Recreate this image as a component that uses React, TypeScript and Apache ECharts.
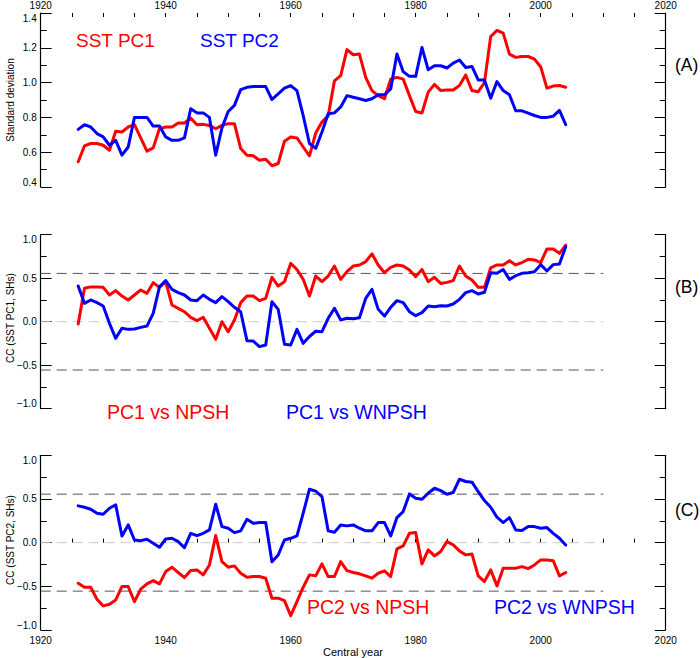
import React, { useEffect, useRef } from "react";
import * as echarts from "echarts";

const FONT = '"Liberation Sans", Arial, Helvetica, sans-serif';

const years = [
  1926, 1927, 1928, 1929, 1930, 1931, 1932, 1933, 1934, 1935,
  1936, 1937, 1938, 1939, 1940, 1941, 1942, 1943, 1944, 1945,
  1946, 1947, 1948, 1949, 1950, 1951, 1952, 1953, 1954, 1955,
  1956, 1957, 1958, 1959, 1960, 1961, 1962, 1963, 1964, 1965,
  1966, 1967, 1968, 1969, 1970, 1971, 1972, 1973, 1974, 1975,
  1976, 1977, 1978, 1979, 1980, 1981, 1982, 1983, 1984, 1985,
  1986, 1987, 1988, 1989, 1990, 1991, 1992, 1993, 1994, 1995,
  1996, 1997, 1998, 1999, 2000, 2001, 2002, 2003, 2004,
];

// Panel A: standard deviation
const sstPc1Std = [
  0.545, 0.636, 0.65, 0.65, 0.64, 0.611, 0.72, 0.716, 0.745, 0.758,
  0.682, 0.606, 0.625, 0.735, 0.745, 0.745, 0.768, 0.768, 0.796, 0.758,
  0.76, 0.754, 0.735, 0.754, 0.764, 0.764, 0.621, 0.583, 0.579, 0.554,
  0.56, 0.522, 0.535, 0.663, 0.687, 0.682, 0.63, 0.579, 0.71, 0.773,
  0.81, 1.01, 1.04, 1.19, 1.16, 1.164, 1.03, 0.954, 0.925, 0.907,
  1.02, 1.03, 1.02, 0.925, 0.834, 0.825, 0.945, 0.99, 0.954, 0.958,
  0.958, 0.983, 1.044, 0.954, 0.948, 1.0, 1.265, 1.3, 1.284, 1.164,
  1.145, 1.15, 1.15, 1.135, 1.09, 0.968, 0.98, 0.983, 0.973,
];
const sstPc2Std = [
  0.731, 0.758, 0.745, 0.707, 0.688, 0.64, 0.668, 0.583, 0.63, 0.8,
  0.8, 0.8, 0.75, 0.75, 0.688, 0.668, 0.668, 0.682, 0.85, 0.826,
  0.826, 0.8, 0.583, 0.74, 0.834, 0.869, 0.96, 0.973, 0.977, 0.977,
  0.977, 0.903, 0.935, 0.968, 0.983, 0.954, 0.81, 0.65, 0.622, 0.716,
  0.821, 0.826, 0.86, 0.925, 0.916, 0.907, 0.897, 0.907, 0.93, 0.93,
  0.964, 1.164, 1.063, 1.036, 1.036, 1.202, 1.074, 1.097, 1.097, 1.084,
  1.112, 1.13, 1.087, 1.093, 1.015, 1.015, 0.91, 1.006, 0.954, 0.93,
  0.838, 0.838, 0.825, 0.811, 0.8, 0.8, 0.807, 0.84, 0.758,
];

// Panel B: CC with SST PC1
const pc1VsNpsh = [
  -0.026, 0.384, 0.4, 0.4, 0.395, 0.307, 0.357, 0.295, 0.25, 0.307,
  0.364, 0.326, 0.449, 0.395, 0.46, 0.192, 0.154, 0.115, 0.05, 0.012,
  0.05, -0.076, -0.203, 0.0, -0.115, 0.02, 0.219, 0.295, 0.295, 0.242,
  0.268, 0.51, 0.41, 0.46, 0.67, 0.6, 0.487, 0.295, 0.525, 0.46,
  0.525, 0.64, 0.487, 0.575, 0.64, 0.652, 0.69, 0.78, 0.652, 0.563,
  0.625, 0.652, 0.64, 0.594, 0.518, 0.6, 0.46, 0.51, 0.44, 0.452,
  0.472, 0.64, 0.525, 0.479, 0.395, 0.395, 0.62, 0.652, 0.652, 0.7,
  0.652, 0.68, 0.717, 0.71, 0.68, 0.836, 0.836, 0.786, 0.88,
];
const pc1VsWnpsh = [
  0.41, 0.211, 0.25, 0.219, 0.18, -0.019, -0.191, -0.076, -0.088, -0.084,
  -0.065, -0.05, 0.096, 0.4, 0.472, 0.372, 0.334, 0.307, 0.25, 0.242,
  0.307, 0.257, 0.219, 0.288, 0.23, 0.165, 0.115, -0.218, -0.222, -0.287,
  -0.268, 0.23, 0.142, -0.26, -0.268, -0.088, -0.249, -0.17, -0.11, -0.115,
  0.039, 0.154, 0.02, 0.039, 0.035, 0.046, 0.268, 0.372, 0.142, 0.065,
  0.165, 0.242, 0.219, 0.115, 0.069, 0.104, 0.18, 0.173, 0.184, 0.18,
  0.203, 0.257, 0.334, 0.357, 0.318, 0.338, 0.563, 0.556, 0.6, 0.487,
  0.529, 0.556, 0.563, 0.575, 0.656, 0.583, 0.656, 0.663, 0.862,
];

// Panel C: CC with SST PC2
const pc2VsNpsh = [
  -0.465, -0.51, -0.51, -0.648, -0.724, -0.705, -0.656, -0.503, -0.503, -0.675,
  -0.533, -0.472, -0.434, -0.472, -0.331, -0.281, -0.342, -0.4, -0.32, -0.312,
  -0.369, -0.255, 0.081, -0.217, -0.281, -0.266, -0.35, -0.395, -0.388, -0.388,
  -0.407, -0.636, -0.636, -0.663, -0.835, -0.675, -0.51, -0.369, -0.38, -0.243,
  -0.388, -0.388, -0.217, -0.32, -0.342, -0.357, -0.38, -0.407, -0.35, -0.323,
  -0.388, -0.072, -0.037, 0.108, 0.115, -0.243, -0.083, -0.152, -0.102, 0.012,
  -0.026, -0.095, -0.14, -0.129, -0.38, -0.445, -0.312, -0.495, -0.293, -0.293,
  -0.293, -0.274, -0.297, -0.255, -0.198, -0.198, -0.206, -0.38, -0.342,
];
const pc2VsWnpsh = [
  0.421, 0.405, 0.383, 0.337, 0.325, 0.394, 0.432, 0.077, 0.203, 0.03,
  0.023, 0.038, -0.007, -0.053, 0.042, 0.05, 0.012, -0.057, 0.107, 0.08,
  0.107, 0.146, 0.44, 0.184, 0.165, 0.115, 0.135, 0.268, 0.222, 0.23,
  0.23, -0.218, -0.141, 0.03, 0.05, 0.077, 0.337, 0.612, 0.59, 0.528,
  0.135, 0.12, 0.203, 0.192, 0.203, 0.165, 0.135, 0.135, 0.23, 0.23,
  0.077, 0.287, 0.356, 0.558, 0.509, 0.497, 0.566, 0.623, 0.596, 0.554,
  0.574, 0.726, 0.7, 0.692, 0.585, 0.482, 0.406, 0.291, 0.23, 0.287,
  0.146, 0.138, 0.184, 0.184, 0.165, 0.173, 0.107, 0.05, -0.026,
];

// Reference levels (significance and zero), and the year range they span
const sigLevel = 0.555;
const refYears = [1920, 2010];

const xRange = { min: 1920, max: 2020, interval: 20 };
const yRangeA = { min: 0.4, max: 1.4, interval: 0.2 };
const yRangeCC = { min: -1, max: 1, interval: 0.5 };

const RED = "#ff0000";
const BLUE = "#0000ff";

function pairs(vals: number[]) {
  return years.map((y, i) => [y, vals[i]]);
}

function fmtCC(v: number) {
  if (Math.abs(v) < 1e-9) return "0.0";
  return v < 0 ? "\u2212" + Math.abs(v).toFixed(1) : v.toFixed(1);
}

export default function App() {
  const ref = useRef<HTMLDivElement>(null);

  useEffect(() => {
    if (!ref.current) return;
    const chart = echarts.init(ref.current, undefined, { renderer: "svg" });

    const L = 40.7;
    const R = 34.3;
    const grids = [
      { left: L, right: R, top: 12, height: 175 },
      { left: L, right: R, top: 234.7, height: 174 },
      { left: L, right: R, top: 455.3, height: 174.7 },
    ];

    const tickStyle = { color: "#000", width: 1 };

    const mkX = (gi: number, pos: "top" | "bottom", show: boolean, margin: number) => ({
      gridIndex: gi,
      type: "value",
      show,
      position: pos,
      min: xRange.min,
      max: xRange.max,
      interval: xRange.interval,
      axisLine: { show: false },
      axisTick: { show: true, inside: true, length: 4, lineStyle: tickStyle },
      minorTick: { show: true, splitNumber: 4, length: 4, lineStyle: tickStyle },
      axisLabel: {
        show: true,
        margin,
        fontSize: 10,
        color: "#000",
        fontFamily: FONT,
        formatter: (v: number) => String(Math.round(v)),
      },
      splitLine: { show: false },
      minorSplitLine: { show: false },
    });

    const mkY = (gi: number, pos: "left" | "right", rng: any, fmt: (v: number) => string) => ({
      gridIndex: gi,
      type: "value",
      position: pos,
      min: rng.min,
      max: rng.max,
      interval: rng.interval,
      axisLine: { show: true, onZero: false, lineStyle: { color: "#000", width: 1.2 } },
      axisTick: { show: true, inside: true, length: 11, lineStyle: tickStyle },
      minorTick: { show: true, splitNumber: 2, length: 6, lineStyle: tickStyle },
      axisLabel: {
        show: pos === "left",
        margin: 4,
        fontSize: 10,
        color: "#000",
        fontFamily: FONT,
        formatter: fmt,
        verticalAlignMaxLabel: "top",
        verticalAlignMinLabel: "bottom",
      },
      splitLine: { show: false },
      minorSplitLine: { show: false },
    });

    const lineSeries = (vals: number[], color: string, xi: number, yi: number) => ({
      type: "line",
      xAxisIndex: xi,
      yAxisIndex: yi,
      data: pairs(vals),
      showSymbol: false,
      symbol: "none",
      z: 3,
      lineStyle: { color, width: 3, join: "round", cap: "round" },
      silent: true,
    });

    const refLine = (level: number, color: string, xi: number, yi: number) => ({
      type: "line",
      xAxisIndex: xi,
      yAxisIndex: yi,
      data: [
        [refYears[0], level],
        [refYears[1], level],
      ],
      showSymbol: false,
      symbol: "none",
      z: 1,
      lineStyle: { color, width: 1, type: [10, 6] },
      silent: true,
    });

    const fmtA = (v: number) => v.toFixed(1);

    const text = (t: string, x: number, y: number, size: number, fill: string, align = "left") => ({
      type: "text",
      x,
      y,
      silent: true,
      style: {
        text: t,
        fill,
        fontSize: size,
        fontFamily: FONT,
        align,
        verticalAlign: "middle",
      },
    });

    const vtext = (t: string, x: number, y: number) => ({
      type: "text",
      x,
      y,
      rotation: Math.PI / 2,
      silent: true,
      style: {
        text: t,
        fill: "#000",
        fontSize: 10,
        fontFamily: FONT,
        align: "center",
        verticalAlign: "middle",
      },
    });

    const DARK = "#555555";
    const LIGHT = "#cccccc";

    chart.setOption({
      animation: false,
      backgroundColor: "#ffffff",
      grid: grids,
      xAxis: [mkX(0, "top", true, 3), mkX(1, "bottom", false, 3), mkX(2, "bottom", true, 5)],
      yAxis: [
        mkY(0, "left", yRangeA, fmtA),
        mkY(0, "right", yRangeA, fmtA),
        mkY(1, "left", yRangeCC, fmtCC),
        mkY(1, "right", yRangeCC, fmtCC),
        mkY(2, "left", yRangeCC, fmtCC),
        mkY(2, "right", yRangeCC, fmtCC),
      ],
      series: [
        lineSeries(sstPc1Std, RED, 0, 0),
        lineSeries(sstPc2Std, BLUE, 0, 0),
        refLine(sigLevel, DARK, 1, 2),
        refLine(0, LIGHT, 1, 2),
        refLine(-sigLevel, DARK, 1, 2),
        lineSeries(pc1VsNpsh, RED, 1, 2),
        lineSeries(pc1VsWnpsh, BLUE, 1, 2),
        refLine(sigLevel, DARK, 2, 4),
        refLine(0, LIGHT, 2, 4),
        refLine(-sigLevel, DARK, 2, 4),
        lineSeries(pc2VsWnpsh, BLUE, 2, 4),
        lineSeries(pc2VsNpsh, RED, 2, 4),
      ],
      graphic: [
        text("SST PC1", 76, 40, 19, RED),
        text("SST PC2", 200, 40, 19, BLUE),
        text("PC1 vs NPSH", 107, 412, 19.5, RED),
        text("PC1 vs WNPSH", 286, 412, 19.5, BLUE),
        text("PC2 vs NPSH", 307, 607, 19.5, RED),
        text("PC2 vs WNPSH", 494, 607, 19.5, BLUE),
        text("(A)", 675, 65, 17.5, "#000"),
        text("(B)", 675, 287, 17.5, "#000"),
        text("(C)", 675, 510, 17.5, "#000"),
        text("Central year", 353, 652, 11, "#000", "center"),
        vtext("Standard deviation", 10, 100),
        vtext("CC (SST PC1, SHs)", 10, 318),
        vtext("CC (SST PC2, SHs)", 10, 540),
      ],
    });

    return () => chart.dispose();
  }, []);

  return (
    <div
      ref={ref}
      style={{ position: "fixed", left: 0, top: 0, width: 700, height: 658, background: "#fff" }}
    />
  );
}
